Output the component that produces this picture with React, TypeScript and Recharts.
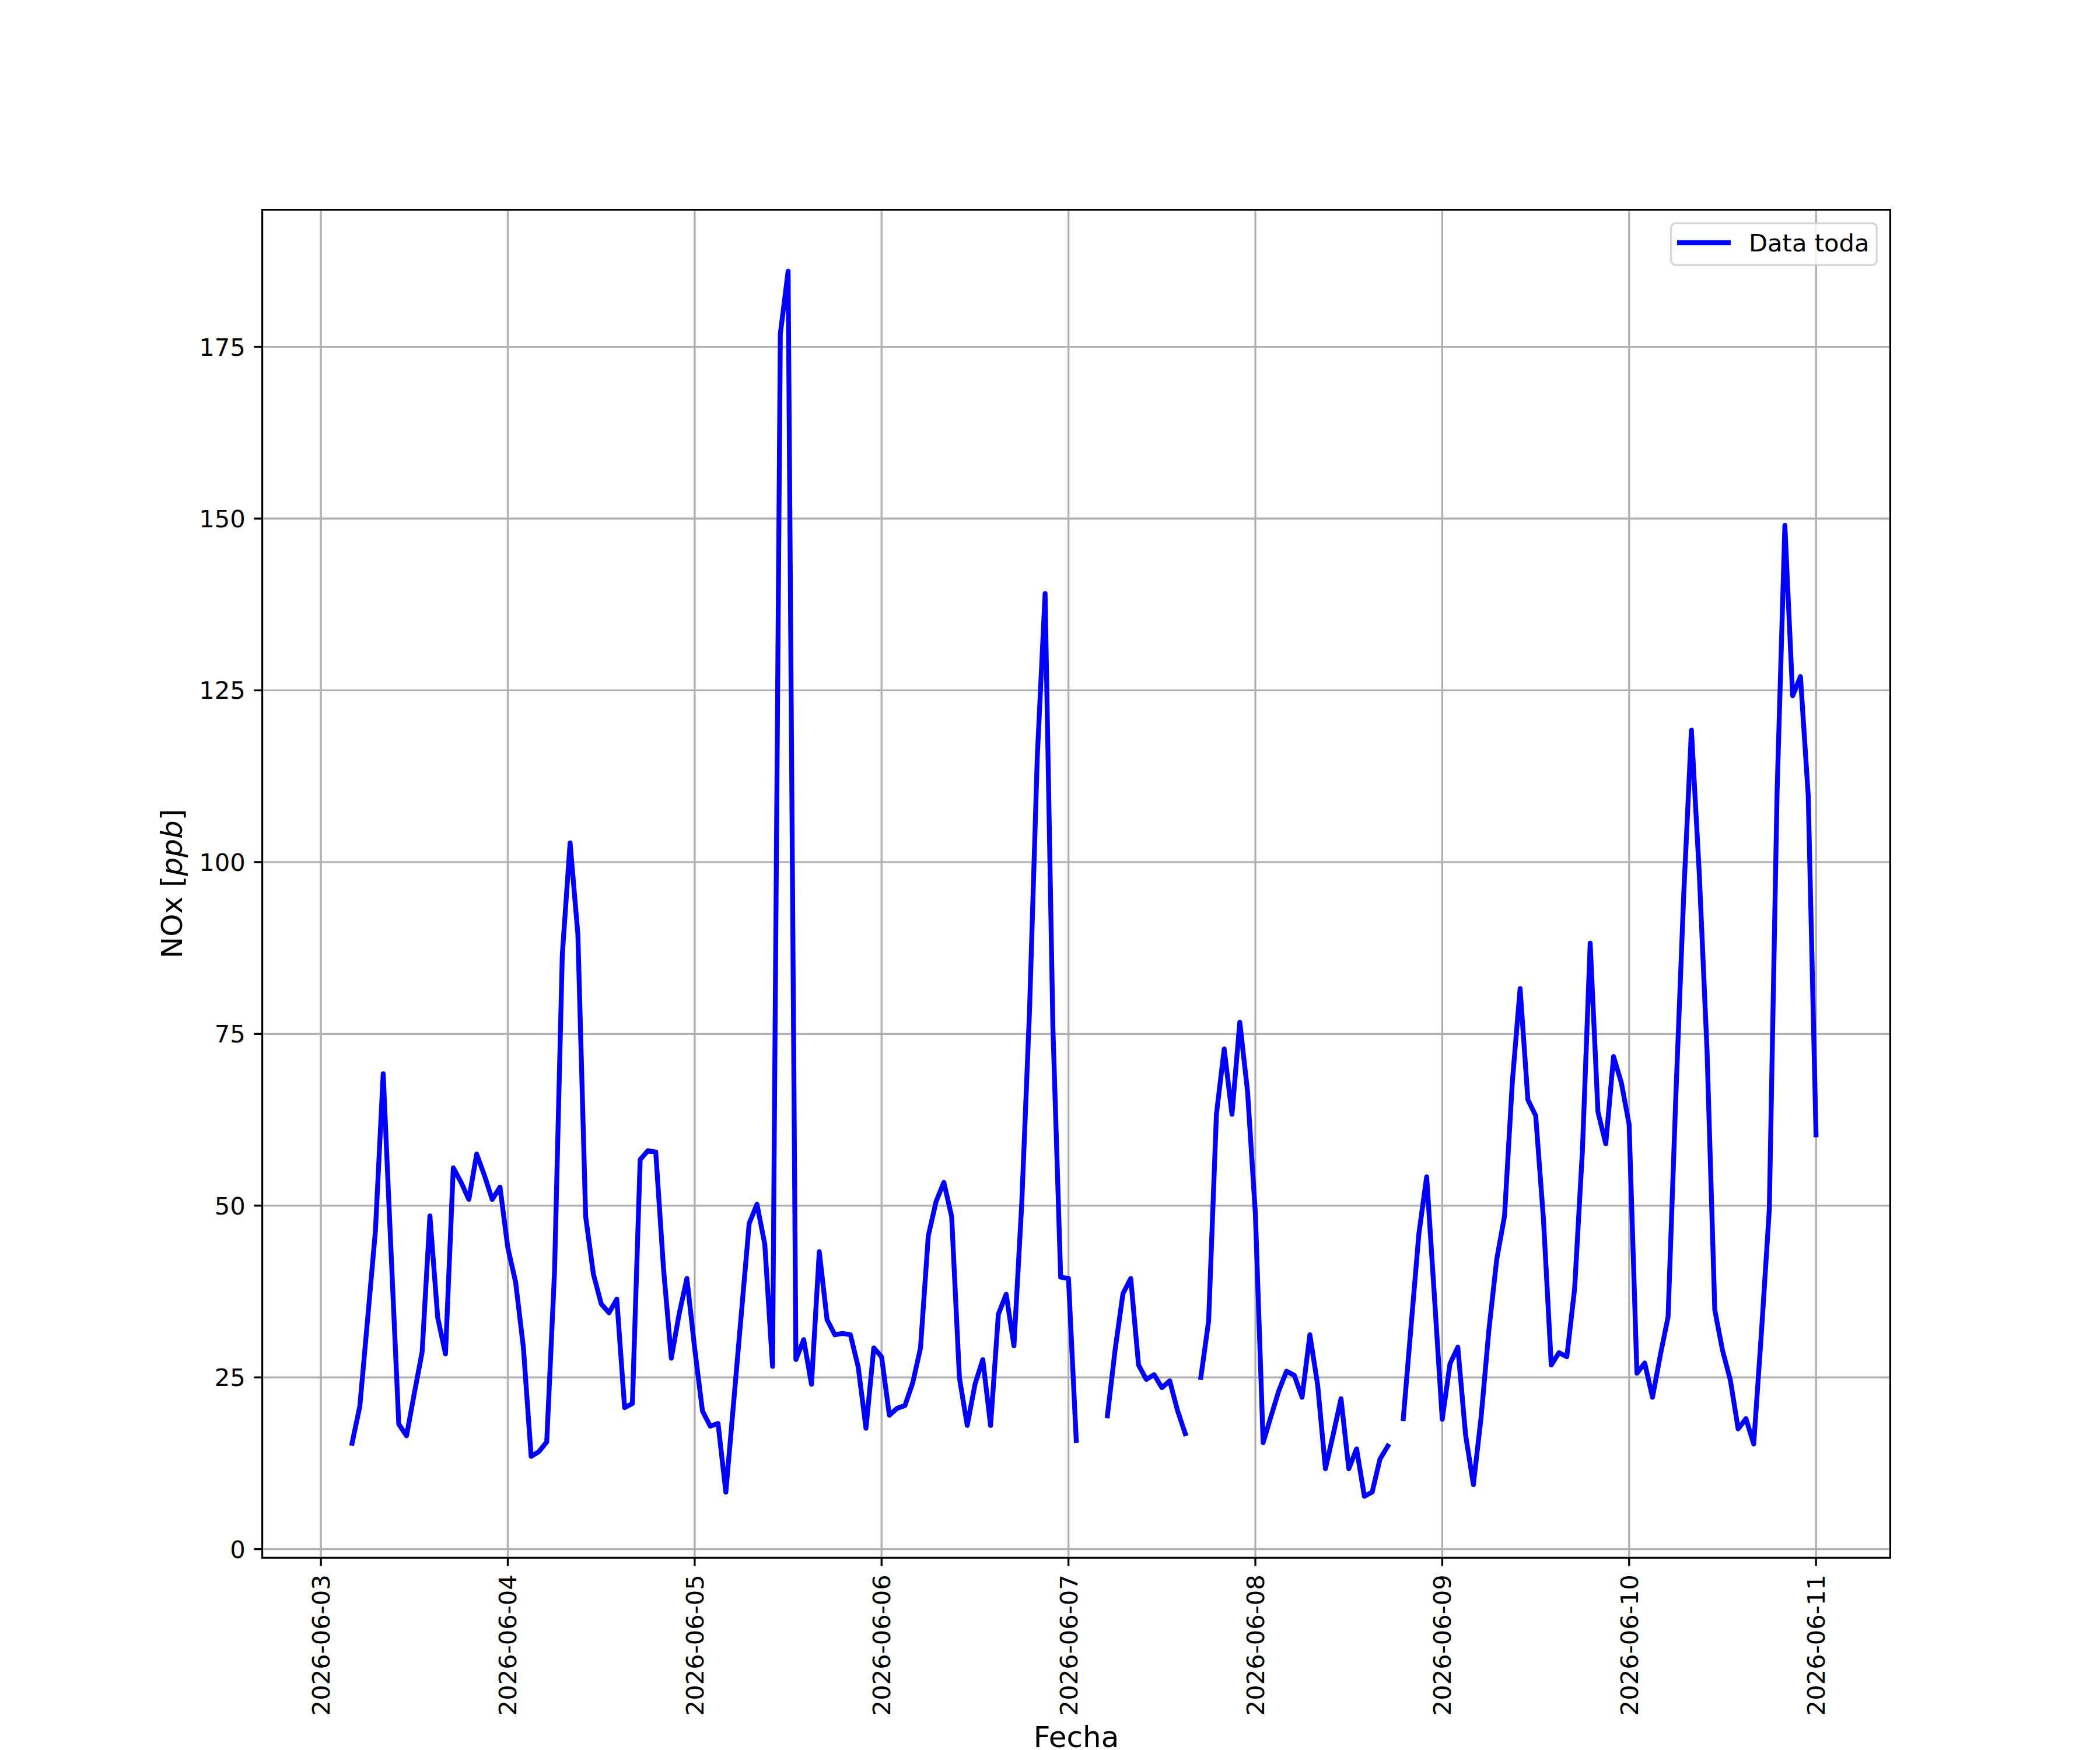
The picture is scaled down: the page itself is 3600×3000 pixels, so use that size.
import React from 'react';
import { LineChart, Line, XAxis, YAxis, CartesianGrid, Legend, Label } from 'recharts';

const FONT = '"DejaVu Sans", "Liberation Sans", sans-serif';
const PT = 300 / 72; // px per point (figure is 12x10 in at 300 dpi)
const FS = 10 * PT;
const LABEL_FS = 12 * PT;
const LW = 2 * PT;

// hourly NOx [ppb], first value is 2026-06-03 02:00
const startHour = 2;
const nox0603 = [null, null, 15.4, 20.8, 33.5, 46.3, 69.2, 43.5, 18.2, 16.5, 22.7, 28.7, 48.5, 33.7, 28.4, 55.5, 53.4, 50.9, 57.5, 54.4, 50.9, 52.7];
const nox0604 = [43.9, 38.9, 29.4, 13.5, 14.2, 15.6, 40.3, 86.5, 102.8, 89.5, 48.4, 40.0, 35.7, 34.4, 36.4, 20.6, 21.2, 56.7, 58.0, 57.8, 40.8, 27.8, 34.2, 39.4];
const nox0605 = [29.2, 20.1, 17.9, 18.3, 8.3, 21.3, 34.4, 47.4, 50.2, 44.4, 26.6, 176.9, 186.0, 27.6, 30.5, 24.0, 43.3, 33.4, 31.2, 31.4, 31.2, 26.5, 17.6, 29.3];
const nox0606 = [28.0, 19.5, 20.5, 20.9, 24.2, 29.3, 45.6, 50.6, 53.4, 48.4, 24.9, 18.0, 24.0, 27.6, 18.0, 34.2, 37.1, 29.6, 50.3, 78.4, 115.4, 139.1, 76.0, 39.6];
const nox0607 = [39.4, 15.8, null, null, null, 19.4, 29.1, 37.2, 39.4, 26.8, 24.7, 25.4, 23.5, 24.5, 20.2, 16.8, null, 25.0, 33.2, 63.3, 72.8, 63.3, 76.7, 66.6];
const nox0608 = [48.9, 15.5, 19.3, 23.0, 25.9, 25.3, 22.1, 31.2, 23.9, 11.7, 16.7, 21.9, 11.7, 14.6, 7.7, 8.3, 13.1, 15.0, null, 19.0, 32.5, 45.9, 54.2, 36.7];
const nox0609 = [18.9, 27.0, 29.4, 16.6, 9.4, 19.3, 32.0, 42.2, 48.5, 68.0, 81.6, 65.4, 63.1, 48.0, 26.8, 28.6, 28.0, 37.9, 58.0, 88.2, 63.6, 59.0, 71.7, 67.9];
const nox0610 = [61.8, 25.6, 27.1, 22.1, 28.2, 33.8, 66.0, 95.0, 119.2, 98.5, 72.7, 34.8, 28.9, 24.6, 17.5, 19.0, 15.3, 31.7, 49.4, 110.2, 149.0, 124.2, 127.0, 109.7];
const nox0611 = [60.3];

const tickLabels = ['2026-06-03', '2026-06-04', '2026-06-05', '2026-06-06', '2026-06-07', '2026-06-08', '2026-06-09', '2026-06-10', '2026-06-11'];
const yTicks = [0, 25, 50, 75, 100, 125, 150, 175];

const series: (number | null)[] = [
  ...nox0603, ...nox0604, ...nox0605, ...nox0606, ...nox0607,
  ...nox0608, ...nox0609, ...nox0610, ...nox0611,
];
const data = series.map((v, i) => ({ t: startHour + i, nox: v }));
const xTicks = tickLabels.map((_, i) => i * 24);

// matplotlib style autoscale: 5% margins
const tMin = data[0].t;
const tMax = data[data.length - 1].t;
const tPad = (tMax - tMin) * 0.05;
const vals = series.filter((v): v is number => v !== null);
const vMin = Math.min(...vals);
const vMax = Math.max(...vals);
const vPad = (vMax - vMin) * 0.05;

const XTick = (props: any) => {
  const { x, y, index } = props;
  return (
    <text x={x} y={y} dy="0.36em" transform={`rotate(-90, ${x}, ${y})`} textAnchor="end"
      fontFamily={FONT} fontSize={FS} fill="#000">
      {tickLabels[index]}
    </text>
  );
};

const YTick = (props: any) => {
  const { x, y, payload } = props;
  return (
    <text x={x} y={y} dy="0.36em" textAnchor="end" fontFamily={FONT} fontSize={FS} fill="#000">
      {payload.value}
    </text>
  );
};

const LegendBox = (props: any) => {
  const item = props.payload && props.payload[0];
  return (
    <svg width={356} height={75} style={{ display: 'block' }}>
      <rect x={1.67} y={1.67} width={352.7} height={71.7} rx={8} ry={8}
        fill="#fff" fillOpacity={0.8} stroke="#cccccc" strokeOpacity={0.8} strokeWidth={0.8 * PT} />
      <line x1={12} y1={35} x2={104} y2={35} stroke={item ? item.color : '#0000ff'} strokeWidth={LW} />
      <text x={135} y={50} fontFamily={FONT} fontSize={FS} fill="#000">
        {item ? item.value : 'Data toda'}
      </text>
    </svg>
  );
};

export default function App() {
  return (
    <div style={{ position: 'relative', width: 3600, height: 3000, background: '#fff' }}>
      <style>{'body{margin:0}'}</style>
      <LineChart width={3600} height={3000} data={data}
        margin={{ top: 360, right: 360, bottom: 30, left: 50 }}>
        <CartesianGrid stroke="#b0b0b0" strokeWidth={0.8 * PT} />
        <XAxis dataKey="t" type="number" domain={[tMin - tPad, tMax + tPad]} ticks={xTicks}
          allowDataOverflow interval={0} height={300} axisLine={false}
          tickLine={{ stroke: '#000', strokeWidth: 0.8 * PT }} tickSize={3.5 * PT} tickMargin={3.5 * PT}
          tick={<XTick />}>
          <Label content={() => (
            <text x={1845} y={2995} textAnchor="middle" fontFamily={FONT} fontSize={LABEL_FS} fill="#000">Fecha</text>
          )} />
        </XAxis>
        <YAxis type="number" domain={[vMin - vPad, vMax + vPad]} ticks={yTicks} allowDataOverflow
          interval={0} width={400} axisLine={false}
          tickLine={{ stroke: '#000', strokeWidth: 0.8 * PT }} tickSize={3.5 * PT} tickMargin={3.5 * PT}
          tick={<YTick />}>
          <Label content={() => (
            <text x={312} y={1515} transform="rotate(-90, 312, 1515)" textAnchor="middle"
              fontFamily={FONT} fontSize={LABEL_FS} fill="#000">
              NOx [<tspan fontStyle="italic">ppb</tspan>]
            </text>
          )} />
        </YAxis>
        <Legend layout="horizontal" align="center" verticalAlign="middle" content={LegendBox}
          wrapperStyle={{ left: 2863, top: 381, width: 356, height: 75 }} />
        <Line type="linear" dataKey="nox" name="Data toda" stroke="#0000ff" strokeWidth={LW}
          strokeLinejoin="round" strokeLinecap="square" dot={false} activeDot={false}
          connectNulls={false} isAnimationActive={false} />
      </LineChart>
      {/* axes frame */}
      <div style={{
        position: 'absolute', left: 450 - 1.67, top: 360 - 1.67, width: 2790 + 3.33, height: 2310 + 3.33,
        border: `${0.8 * PT}px solid #000`, boxSizing: 'border-box', pointerEvents: 'none',
      }} />
    </div>
  );
}
